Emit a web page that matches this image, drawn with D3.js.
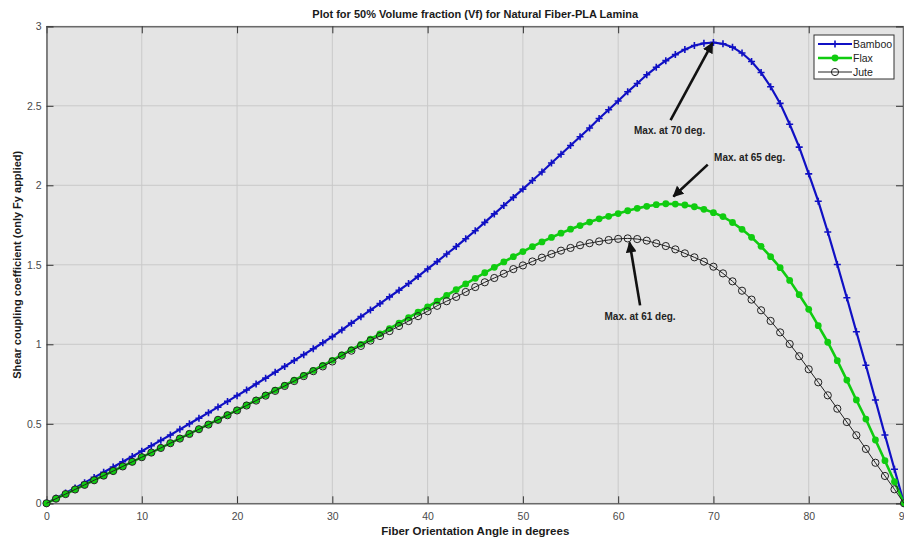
<!DOCTYPE html>
<html><head><meta charset="utf-8">
<script src="https://cdn.jsdelivr.net/npm/d3@7/dist/d3.min.js"></script>
<style>
body{margin:0;background:#fff}
svg{display:block;font-family:"Liberation Sans",Arial,Helvetica,sans-serif}
</style>
</head><body>
<svg id="chart" width="904" height="543"></svg>
<script>
// Fiber orientation angles (degrees), one sample per degree
const angles = d3.range(0, 91);

const bamboo = [0,0.032,0.065,0.097,0.130,0.163,0.195,0.228,0.261,0.294,
0.328,0.362,0.396,0.430,0.465,0.500,0.535,0.570,0.605,0.641,
0.677,0.713,0.750,0.787,0.824,0.861,0.898,0.935,0.972,1.010,
1.048,1.090,1.133,1.174,1.215,1.256,1.298,1.340,1.382,1.427,
1.474,1.520,1.568,1.615,1.664,1.714,1.767,1.820,1.873,1.924,
1.976,2.030,2.084,2.140,2.195,2.250,2.305,2.360,2.420,2.475,
2.530,2.588,2.640,2.695,2.742,2.784,2.822,2.854,2.879,2.893,
2.898,2.890,2.869,2.832,2.779,2.709,2.620,2.515,2.384,2.240,
2.072,1.900,1.706,1.502,1.293,1.079,0.868,0.650,0.430,0.214,0];

const flax = [0,0.029,0.058,0.087,0.116,0.145,0.174,0.203,0.232,0.261,
0.290,0.319,0.349,0.379,0.408,0.438,0.467,0.497,0.526,0.556,
0.586,0.617,0.649,0.680,0.711,0.742,0.774,0.805,0.836,0.867,
0.899,0.934,0.967,1.000,1.032,1.066,1.099,1.133,1.168,1.202,
1.236,1.272,1.308,1.344,1.380,1.415,1.450,1.484,1.518,1.551,
1.583,1.614,1.644,1.672,1.699,1.724,1.747,1.769,1.789,1.805,
1.822,1.840,1.855,1.868,1.878,1.884,1.882,1.876,1.865,1.849,
1.828,1.803,1.766,1.723,1.673,1.616,1.551,1.482,1.402,1.312,
1.220,1.117,1.013,0.897,0.775,0.650,0.530,0.398,0.268,0.136,0];

const jute = [0,0.029,0.058,0.087,0.116,0.145,0.174,0.203,0.232,0.261,
0.290,0.319,0.348,0.378,0.407,0.436,0.466,0.495,0.525,0.554,
0.584,0.615,0.646,0.677,0.707,0.738,0.769,0.800,0.831,0.861,
0.892,0.929,0.960,0.990,1.023,1.052,1.083,1.115,1.146,1.177,
1.208,1.242,1.271,1.298,1.329,1.360,1.390,1.417,1.444,1.473,
1.496,1.521,1.545,1.568,1.589,1.606,1.623,1.636,1.647,1.656,
1.663,1.666,1.662,1.652,1.635,1.618,1.597,1.572,1.547,1.520,
1.488,1.446,1.396,1.337,1.281,1.214,1.147,1.075,1.002,0.925,
0.843,0.761,0.679,0.595,0.511,0.428,0.342,0.255,0.172,0.088,0];

const xTicks = [0,10,20,30,40,50,60,70,80,90];
const yTicks = [0,0.5,1,1.5,2,2.5,3];

const seriesNames = ["Bamboo","Flax","Jute"];

const titleText = "Plot for 50% Volume fraction (Vf) for Natural Fiber-PLA Lamina";
const xLabel = "Fiber Orientation Angle in degrees";
const yLabel = "Shear coupling coefficient (only Fy applied)";

// annotation anchors in data units: [text x, text y], arrow tail, arrow head
const annotText = ["Max. at 70 deg.","Max. at 65 deg.","Max. at 61 deg."];
const annotTextPos = [[65.4,2.32],[73.8,2.155],[62.3,1.155]];
const annotTail = [[65.5,2.41],[69.4,2.13],[62.3,1.245]];
const annotHead = [[69.9,2.895],[65.8,1.93],[61.2,1.64]];

// ---------- drawing ----------
const svg = d3.select("#chart");
const L = 46.5, R = 904, T = 26.3, B = 503.3;
const x = d3.scaleLinear().domain([0,90]).range([L,R]);
const y = d3.scaleLinear().domain([0,3]).range([B,T]);

const styles = {
  Bamboo:{color:"#1010c4", width:2.2},
  Flax:{color:"#10cc10", width:2.6},
  Jute:{color:"#222", width:1}
};

// background
svg.append("rect").attr("x",L).attr("y",T).attr("width",R-L).attr("height",B-T).attr("fill","#e4e4e4");

// grid
svg.append("g").selectAll("line").data(xTicks).join("line")
  .attr("x1",d=>x(d)).attr("x2",d=>x(d)).attr("y1",T).attr("y2",B)
  .attr("stroke","#c9c9c9").attr("stroke-width",1);
svg.append("g").selectAll("line").data(yTicks).join("line")
  .attr("y1",d=>y(d)).attr("y2",d=>y(d)).attr("x1",L).attr("x2",R)
  .attr("stroke","#c9c9c9").attr("stroke-width",1);

// axes
const axColor = "#6a6a6a";
const xAxB = svg.append("g").attr("transform",`translate(0,${B})`)
  .call(d3.axisBottom(x).tickValues(xTicks).tickSize(-7).tickPadding(9).tickFormat(d3.format("d")));
const xAxT = svg.append("g").attr("transform",`translate(0,${T})`)
  .call(d3.axisTop(x).tickValues(xTicks).tickSize(-7).tickFormat(""));
const yAxL = svg.append("g").attr("transform",`translate(${L},0)`)
  .call(d3.axisLeft(y).tickValues(yTicks).tickSize(-7).tickPadding(5).tickFormat(d=>d3.format("")(d)));
const yAxR = svg.append("g").attr("transform",`translate(${R-1},0)`)
  .call(d3.axisRight(y).tickValues(yTicks).tickSize(-7).tickFormat(""));
[xAxB,xAxT,yAxL,yAxR].forEach(g=>{
  g.select(".domain").attr("stroke",axColor).attr("stroke-width",1.6);
  g.selectAll(".tick line").attr("stroke","#333").attr("stroke-width",1);
  g.selectAll("text").attr("fill","#4a4a4a").attr("font-size","10.5px").attr("font-family","Liberation Sans, Arial, sans-serif");
});
xAxB.selectAll(".tick line").attr("stroke","#333");

// data
const data = {Bamboo:bamboo, Flax:flax, Jute:jute};
const lineGen = vals => d3.line().x((d,i)=>x(angles[i])).y(d=>y(d))(vals);

const plotG = svg.append("g");
seriesNames.forEach(name=>{
  const vals = data[name], st = styles[name];
  plotG.append("path").attr("d",lineGen(vals)).attr("fill","none")
    .attr("stroke",st.color).attr("stroke-width",st.width);
  const mg = plotG.append("g");
  vals.forEach((v,i)=>{
    const cx = x(angles[i]), cy = y(v);
    if(name==="Bamboo"){
      mg.append("path").attr("d",`M${cx-3.5},${cy}H${cx+3.5}M${cx},${cy-3.5}V${cy+3.5}`)
        .attr("stroke",st.color).attr("stroke-width",1.6);
    } else if(name==="Flax"){
      mg.append("circle").attr("cx",cx).attr("cy",cy).attr("r",3.4).attr("fill",st.color);
    } else {
      mg.append("circle").attr("cx",cx).attr("cy",cy).attr("r",3.6).attr("fill","none")
        .attr("stroke","#222").attr("stroke-width",1);
    }
  });
});

// annotations
const defs = svg.append("defs");
defs.append("marker").attr("id","ah").attr("viewBox","0 0 10 10").attr("refX",9).attr("refY",5)
  .attr("markerWidth",4.2).attr("markerHeight",4.2).attr("orient","auto")
  .append("path").attr("d","M0,0L10,5L0,10Z").attr("fill","#111");
annotText.forEach((t,i)=>{
  svg.append("line")
    .attr("x1",x(annotTail[i][0])).attr("y1",y(annotTail[i][1]))
    .attr("x2",x(annotHead[i][0])).attr("y2",y(annotHead[i][1]))
    .attr("stroke","#111").attr("stroke-width",2.6).attr("marker-end","url(#ah)");
  svg.append("text").attr("x",x(annotTextPos[i][0])).attr("y",y(annotTextPos[i][1]))
    .attr("text-anchor","middle").attr("font-size","10px").attr("font-weight","bold")
    .attr("fill","#222").text(t);
});

// title & labels
svg.append("text").attr("x",(L+R)/2).attr("y",18).attr("text-anchor","middle")
  .attr("font-size","11px").attr("font-weight","bold").attr("fill","#1a1a1a").text(titleText);
svg.append("text").attr("x",(L+R)/2).attr("y",535).attr("text-anchor","middle")
  .attr("font-size","11.5px").attr("font-weight","bold").attr("fill","#1a1a1a").text(xLabel);
svg.append("text").attr("transform",`translate(21,${(T+B)/2}) rotate(-90)`).attr("text-anchor","middle")
  .attr("font-size","11px").attr("font-weight","bold").attr("fill","#1a1a1a").text(yLabel);

// legend
const lg = svg.append("g").attr("transform","translate(814,35)");
lg.append("rect").attr("width",80).attr("height",44).attr("fill","#fff").attr("stroke","#333").attr("stroke-width",1);
seriesNames.forEach((name,i)=>{
  const st = styles[name], cy = 9 + i*14;
  lg.append("line").attr("x1",4).attr("x2",38).attr("y1",cy).attr("y2",cy)
    .attr("stroke",st.color).attr("stroke-width",st.width);
  if(name==="Bamboo"){
    lg.append("path").attr("d",`M17.5,${cy}H24.5M21,${cy-3.5}V${cy+3.5}`).attr("stroke",st.color).attr("stroke-width",1.6);
  } else if(name==="Flax"){
    lg.append("circle").attr("cx",21).attr("cy",cy).attr("r",3.4).attr("fill",st.color);
  } else {
    lg.append("circle").attr("cx",21).attr("cy",cy).attr("r",3.6).attr("fill","none").attr("stroke","#222");
  }
  lg.append("text").attr("x",39).attr("y",cy+3.6).attr("font-size","10.5px").attr("fill","#222").text(name);
});
</script>
</body></html>
